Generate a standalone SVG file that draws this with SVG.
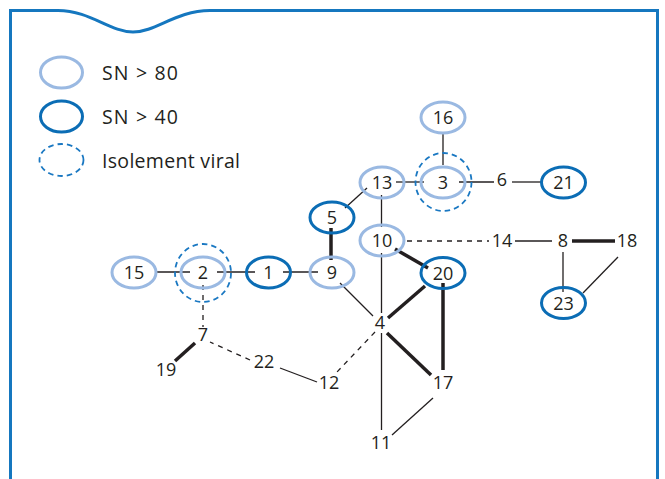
<svg xmlns="http://www.w3.org/2000/svg" width="665" height="479" viewBox="0 0 665 479">
<style>
text{font-family:"Open Sans","Noto Sans","Liberation Sans",sans-serif;font-size:18px;fill:#231f20}
.lg{font-size:19.5px}
.n{text-anchor:middle}
.lt{fill:none;stroke:#9ab9e2;stroke-width:3}
.dk{fill:none;stroke:#0b6db5;stroke-width:3}
.iso{fill:none;stroke:#1a78c2;stroke-width:1.8;stroke-dasharray:5.5 4}
.e{stroke:#231f20;stroke-width:1.3;fill:none}
.t{stroke:#231f20;stroke-width:3.5;fill:none}
.d{stroke:#231f20;stroke-width:1.3;fill:none;stroke-dasharray:5 5}
</style>
<rect width="665" height="479" fill="#fff"/>
<path d="M10.5 479 V10.5 H58 C90 10.5 110 32 133 32 C156 32 176 10.5 210 10.5 H657.5 V479" fill="none" stroke="#1577bf" stroke-width="3"/>
<g id="legend">
<ellipse class="lt" cx="61.5" cy="72.5" rx="21" ry="15.5"/>
<text class="lg" x="102" y="79.5" textLength="76" lengthAdjust="spacing">SN &gt; 80</text>
<ellipse class="dk" cx="61.5" cy="116.5" rx="21" ry="15.5"/>
<text class="lg" x="102" y="123.5" textLength="76" lengthAdjust="spacing">SN &gt; 40</text>
<ellipse class="iso" cx="61.5" cy="160" rx="22" ry="16"/>
<text class="lg" x="102" y="167.5" textLength="138" lengthAdjust="spacing">Isolement viral</text>
</g>
<g id="edges">
<line class="e" x1="157" y1="272" x2="190" y2="272"/>
<line class="e" x1="217" y1="272" x2="255" y2="272"/>
<line class="e" x1="283" y1="272" x2="318" y2="272"/>
<line class="t" x1="331" y1="228" x2="331" y2="260"/>
<line class="e" x1="345" y1="208" x2="367" y2="188"/>
<line class="e" x1="396" y1="182" x2="424" y2="182"/>
<line class="e" x1="443" y1="132" x2="443" y2="165"/>
<line class="e" x1="459" y1="182" x2="494" y2="182"/>
<line class="e" x1="512" y1="182" x2="541" y2="182"/>
<line class="e" x1="381.5" y1="195" x2="381.5" y2="227"/>
<line class="e" x1="381.5" y1="253" x2="381.5" y2="313"/>
<line class="e" x1="381.5" y1="333" x2="381.5" y2="430"/>
<line class="t" x1="395" y1="249" x2="428" y2="268"/>
<line class="d" x1="407" y1="241" x2="489" y2="241"/>
<line class="e" x1="515" y1="241" x2="552" y2="241"/>
<line class="t" x1="572" y1="241" x2="615" y2="241"/>
<line class="e" x1="563" y1="252" x2="563" y2="292"/>
<line class="e" x1="618" y1="257" x2="583" y2="293"/>
<line class="e" x1="340" y1="283" x2="373" y2="316"/>
<line class="t" x1="425" y1="286" x2="388" y2="318"/>
<line class="t" x1="443" y1="283" x2="443" y2="370"/>
<line class="t" x1="387" y1="333" x2="431" y2="375"/>
<line class="d" x1="375" y1="332" x2="337" y2="372"/>
<line class="e" x1="433" y1="398" x2="392" y2="435"/>
<line class="e" x1="317" y1="382" x2="280" y2="368"/>
<line class="d" x1="250" y1="360" x2="210" y2="342"/>
<line class="t" x1="195" y1="343" x2="175" y2="361"/>
<line class="d" x1="203" y1="285" x2="203" y2="327"/>
</g>
<g id="n15"><ellipse class="lt" cx="134" cy="272.5" rx="22" ry="15.5"/><text class="n" x="134" y="279">15</text></g>
<g id="n2"><ellipse class="lt" cx="203" cy="272.5" rx="22" ry="15.5"/><ellipse class="iso" cx="203" cy="273" rx="28" ry="29"/><text class="n" x="203" y="279">2</text></g>
<g id="n1"><ellipse class="dk" cx="268.5" cy="272.5" rx="22" ry="15.5"/><text class="n" x="268.5" y="279">1</text></g>
<g id="n9"><ellipse class="lt" cx="332" cy="272.5" rx="22" ry="15.5"/><text class="n" x="332" y="279">9</text></g>
<g id="n5"><ellipse class="dk" cx="332" cy="217.5" rx="22" ry="15.5"/><text class="n" x="332" y="224">5</text></g>
<g id="n13"><ellipse class="lt" cx="382" cy="182.5" rx="22" ry="15.5"/><text class="n" x="382" y="189">13</text></g>
<g id="n3"><ellipse class="lt" cx="443" cy="182.5" rx="22" ry="15.5"/><ellipse class="iso" cx="443.5" cy="182" rx="28" ry="29"/><text class="n" x="443" y="189">3</text></g>
<g id="n16"><ellipse class="lt" cx="443" cy="117.5" rx="22" ry="15.5"/><text class="n" x="443" y="124">16</text></g>
<g id="n6"><text class="n" x="502" y="186">6</text></g>
<g id="n21"><ellipse class="dk" cx="563.5" cy="182.5" rx="22" ry="15.5"/><text class="n" x="563.5" y="189">21</text></g>
<g id="n10"><ellipse class="lt" cx="382" cy="240.5" rx="22" ry="15.5"/><text class="n" x="382" y="247">10</text></g>
<g id="n14"><text class="n" x="502" y="247">14</text></g>
<g id="n8"><text class="n" x="563" y="247">8</text></g>
<g id="n18"><text class="n" x="627" y="247">18</text></g>
<g id="n23"><ellipse class="dk" cx="563.5" cy="303" rx="22" ry="15.5"/><text class="n" x="563.5" y="309.5">23</text></g>
<g id="n20"><ellipse class="dk" cx="443" cy="273" rx="22" ry="15.5"/><text class="n" x="443" y="279.5">20</text></g>
<g id="n4"><text class="n" x="380" y="329">4</text></g>
<g id="n7"><text class="n" x="203" y="341">7</text></g>
<g id="n19"><text class="n" x="166" y="376">19</text></g>
<g id="n22"><text class="n" x="264" y="368">22</text></g>
<g id="n12"><text class="n" x="329" y="389">12</text></g>
<g id="n17"><text class="n" x="443" y="389">17</text></g>
<g id="n11"><text class="n" x="381" y="449">11</text></g>
</svg>
